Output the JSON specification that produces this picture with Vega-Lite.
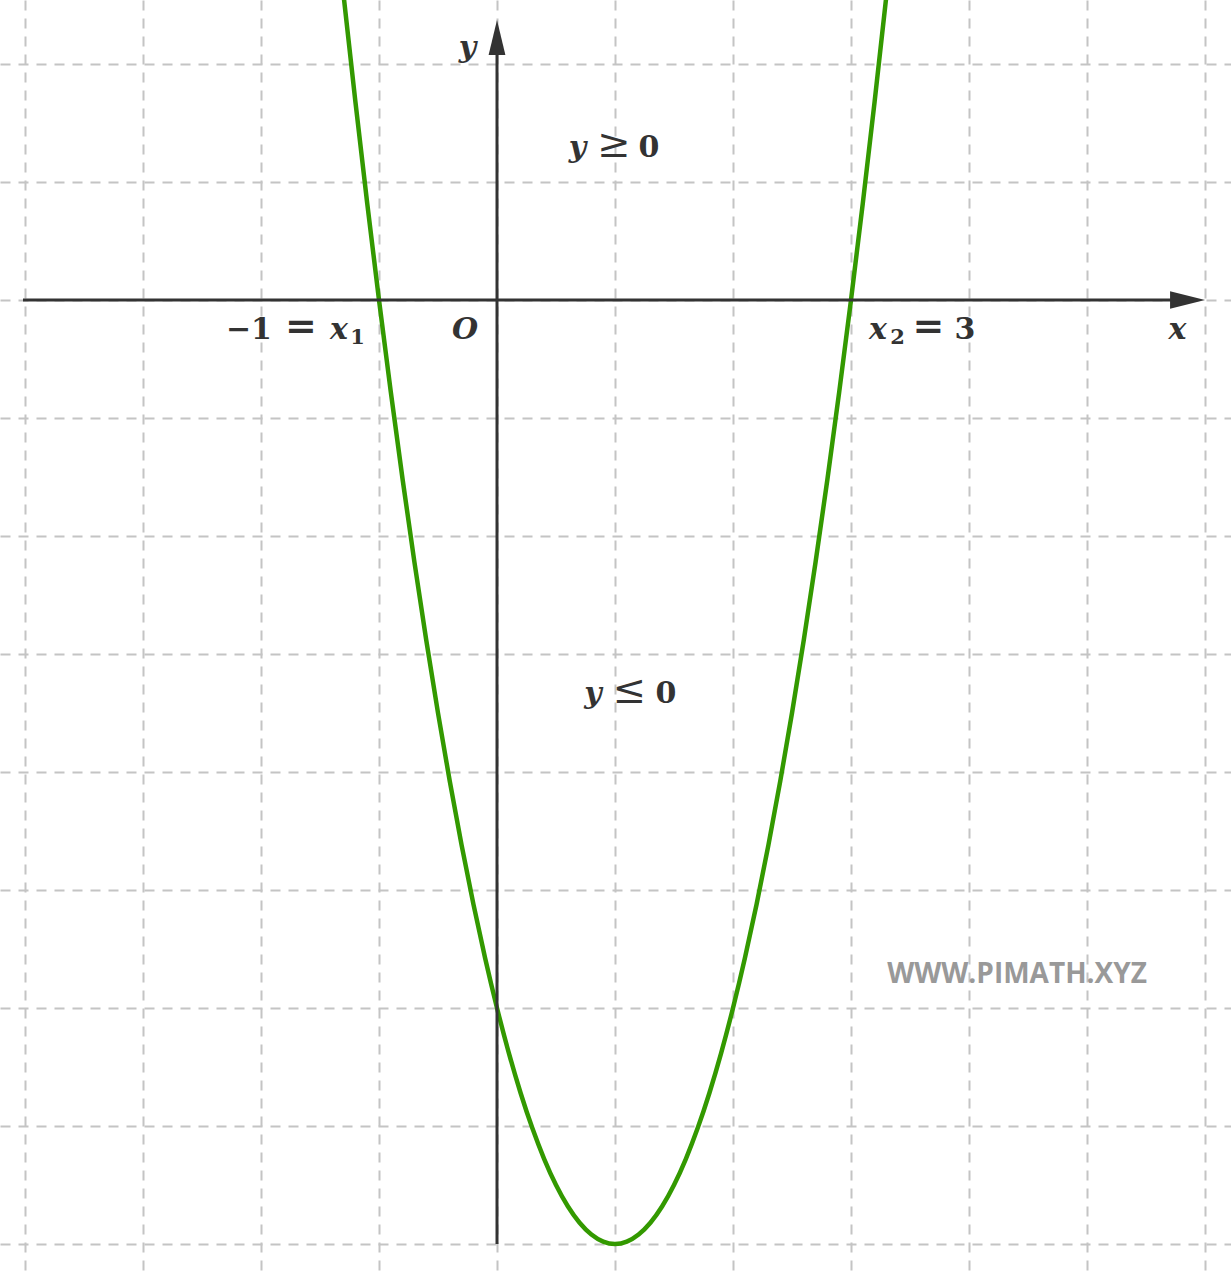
{
  "$schema": "https://vega.github.io/schema/vega-lite/v6.json",
  "description": "Parabola y = (x+1)(x-3) with roots x1 = -1 and x2 = 3, sign regions marked.",
  "width": 1231,
  "height": 1273,
  "padding": 0,
  "autosize": {"type": "fit", "contains": "padding"},
  "background": "white",
  "datasets": {
    "curve": [
      {"x": -1.3, "y": 1.29}, {"x": -1.2, "y": 0.84}, {"x": -1.1, "y": 0.41},
      {"x": -1.0, "y": 0}, {"x": -0.9, "y": -0.39}, {"x": -0.8, "y": -0.76},
      {"x": -0.7, "y": -1.11}, {"x": -0.6, "y": -1.44}, {"x": -0.5, "y": -1.75},
      {"x": -0.4, "y": -2.04}, {"x": -0.3, "y": -2.31}, {"x": -0.2, "y": -2.56},
      {"x": -0.1, "y": -2.79}, {"x": 0.0, "y": -3}, {"x": 0.1, "y": -3.19},
      {"x": 0.2, "y": -3.36}, {"x": 0.3, "y": -3.51}, {"x": 0.4, "y": -3.64},
      {"x": 0.5, "y": -3.75}, {"x": 0.6, "y": -3.84}, {"x": 0.7, "y": -3.91},
      {"x": 0.8, "y": -3.96}, {"x": 0.9, "y": -3.99}, {"x": 1.0, "y": -4},
      {"x": 1.1, "y": -3.99}, {"x": 1.2, "y": -3.96}, {"x": 1.3, "y": -3.91},
      {"x": 1.4, "y": -3.84}, {"x": 1.5, "y": -3.75}, {"x": 1.6, "y": -3.64},
      {"x": 1.7, "y": -3.51}, {"x": 1.8, "y": -3.36}, {"x": 1.9, "y": -3.19},
      {"x": 2.0, "y": -3}, {"x": 2.1, "y": -2.79}, {"x": 2.2, "y": -2.56},
      {"x": 2.3, "y": -2.31}, {"x": 2.4, "y": -2.04}, {"x": 2.5, "y": -1.75},
      {"x": 2.6, "y": -1.44}, {"x": 2.7, "y": -1.11}, {"x": 2.8, "y": -0.76},
      {"x": 2.9, "y": -0.39}, {"x": 3.0, "y": 0}, {"x": 3.1, "y": 0.41},
      {"x": 3.2, "y": 0.84}, {"x": 3.3, "y": 1.29}
    ],
    "axes": [
      {"x": -4.017, "x2": 5.746, "y": 0, "y2": 0},
      {"x": 0, "x2": 0, "y": -4.0, "y2": 1.059}
    ],
    "arrows": [
      {"x": 5.852, "y": 0, "dir": "right"},
      {"x": 0, "y": 1.112, "dir": "up"}
    ],
    "upright": [
      {"text": "−1", "x": -2.102, "y": -0.165},
      {"text": "3", "x": 3.966, "y": -0.165},
      {"text": "0", "x": 1.288, "y": 0.606},
      {"text": "0", "x": 1.432, "y": -1.708}
    ],
    "equals": [
      {"text": "=", "x": -1.661, "y": -0.165},
      {"text": "=", "x": 3.657, "y": -0.165}
    ],
    "inequalities": [
      {"text": "≥", "x": 0.992, "y": 0.606},
      {"text": "≤", "x": 1.123, "y": -1.708}
    ],
    "italic": [
      {"text": "x", "x": -1.339, "y": -0.165},
      {"text": "O", "x": -0.271, "y": -0.165},
      {"text": "x", "x": 3.229, "y": -0.165},
      {"text": "x", "x": 5.767, "y": -0.165},
      {"text": "y", "x": -0.25, "y": 1.03},
      {"text": "y", "x": 0.682, "y": 0.606},
      {"text": "y", "x": 0.814, "y": -1.708}
    ],
    "subscripts": [
      {"text": "1", "x": -1.182, "y": -0.186},
      {"text": "2", "x": 3.394, "y": -0.186}
    ],
    "mark": [
      {"text": "WWW.PIMATH.XYZ", "x": 4.407, "y": -2.86}
    ]
  },
  "layer": [
    {
      "data": {"name": "curve"},
      "mark": {"type": "line", "color": "#339900", "strokeWidth": 4.5, "interpolate": "monotone", "clip": true},
      "encoding": {
        "x": {
          "field": "x",
          "type": "quantitative",
          "scale": {"domain": [-4.2119, 6.2203], "nice": false, "zero": false},
          "axis": {
            "values": [-4, -3, -2, -1, 0, 1, 2, 3, 4, 5, 6],
            "grid": true, "labels": false, "ticks": false, "domain": false, "title": null
          }
        },
        "y": {
          "field": "y",
          "type": "quantitative",
          "scale": {"domain": [-4.1229, 1.2712], "nice": false, "zero": false},
          "axis": {
            "values": [-4, -3.5, -3, -2.5, -2, -1.5, -1, -0.5, 0, 0.5, 1],
            "grid": true, "labels": false, "ticks": false, "domain": false, "title": null
          }
        }
      }
    },
    {
      "data": {"name": "axes"},
      "mark": {"type": "rule", "color": "#333333", "strokeWidth": 3},
      "encoding": {
        "x": {"field": "x", "type": "quantitative"},
        "x2": {"field": "x2"},
        "y": {"field": "y", "type": "quantitative"},
        "y2": {"field": "y2"}
      }
    },
    {
      "data": {"name": "arrows"},
      "mark": {"type": "point", "filled": true, "color": "#333333", "opacity": 1, "size": 1225, "strokeWidth": 0},
      "encoding": {
        "x": {"field": "x", "type": "quantitative"},
        "y": {"field": "y", "type": "quantitative"},
        "shape": {
          "field": "dir",
          "type": "nominal",
          "scale": {"domain": ["right", "up"], "range": ["M-1,-0.5L1,0L-1,0.5Z", "M-0.48,1L0,-1L0.48,1Z"]},
          "legend": null
        }
      }
    },
    {
      "data": {"name": "upright"},
      "mark": {"type": "text", "align": "center", "baseline": "alphabetic", "font": "DejaVu Serif", "fontWeight": "bold", "fontSize": 30, "color": "#333333"},
      "encoding": {
        "x": {"field": "x", "type": "quantitative"},
        "y": {"field": "y", "type": "quantitative"},
        "text": {"field": "text"}
      }
    },
    {
      "data": {"name": "equals"},
      "mark": {"type": "text", "align": "center", "baseline": "alphabetic", "font": "DejaVu Serif", "fontWeight": "bold", "fontSize": 38, "color": "#333333"},
      "encoding": {
        "x": {"field": "x", "type": "quantitative"},
        "y": {"field": "y", "type": "quantitative"},
        "text": {"field": "text"}
      }
    },
    {
      "data": {"name": "inequalities"},
      "mark": {"type": "text", "align": "center", "baseline": "alphabetic", "font": "DejaVu Serif", "fontWeight": "normal", "fontSize": 40, "color": "#333333"},
      "encoding": {
        "x": {"field": "x", "type": "quantitative"},
        "y": {"field": "y", "type": "quantitative"},
        "text": {"field": "text"}
      }
    },
    {
      "data": {"name": "italic"},
      "mark": {"type": "text", "align": "center", "baseline": "alphabetic", "font": "DejaVu Serif", "fontWeight": "bold", "fontStyle": "italic", "fontSize": 30, "color": "#333333"},
      "encoding": {
        "x": {"field": "x", "type": "quantitative"},
        "y": {"field": "y", "type": "quantitative"},
        "text": {"field": "text"}
      }
    },
    {
      "data": {"name": "subscripts"},
      "mark": {"type": "text", "align": "center", "baseline": "alphabetic", "font": "DejaVu Serif", "fontWeight": "bold", "fontSize": 21, "color": "#333333"},
      "encoding": {
        "x": {"field": "x", "type": "quantitative"},
        "y": {"field": "y", "type": "quantitative"},
        "text": {"field": "text"}
      }
    },
    {
      "data": {"name": "mark"},
      "mark": {"type": "text", "align": "center", "baseline": "middle", "font": "Open Sans", "fontWeight": "bold", "fontSize": 28, "color": "#999999"},
      "encoding": {
        "x": {"field": "x", "type": "quantitative"},
        "y": {"field": "y", "type": "quantitative"},
        "text": {"field": "text"}
      }
    }
  ],
  "config": {
    "view": {"stroke": null},
    "axis": {"gridColor": "#c4c4c4", "gridWidth": 2, "gridDash": [10, 8], "gridOpacity": 1}
  }
}
